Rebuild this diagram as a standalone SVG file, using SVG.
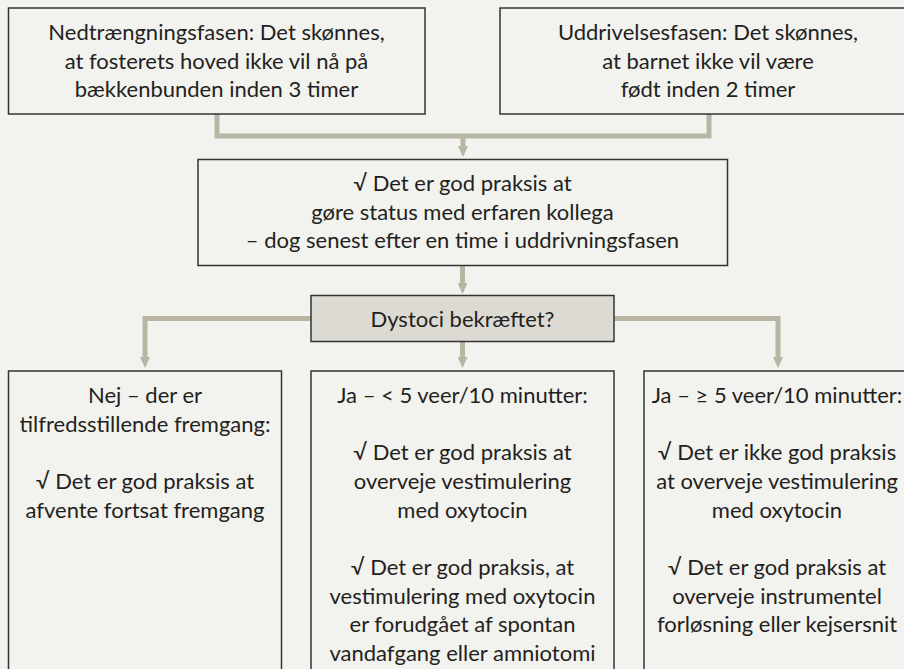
<svg xmlns="http://www.w3.org/2000/svg" width="904" height="669" viewBox="0 0 904 669">
<style>
.bg{fill:#f2f2ee}
.box{fill:#f2f2ee;stroke:#333333;stroke-width:1.5}
.q{fill:#dcdad3;stroke:#333333;stroke-width:1.5}
.t{font-family:Lato,"Open Sans","Liberation Sans",sans-serif;font-size:22px;fill:#231f20;text-anchor:middle}
.c{fill:none;stroke:#b8b5a3;stroke-width:5}
</style>
<defs>
<marker id="ah" viewBox="0 -5 11 10" refX="0" refY="0" markerWidth="11" markerHeight="10" markerUnits="userSpaceOnUse" orient="auto">
<path d="M0,-5 L11,0 L0,5 z" fill="#b8b5a3"/>
</marker>
</defs>
<rect class="bg" x="0" y="0" width="904" height="669"/>
<g id="connectors">
<path class="c" d="M217,114 V136 H709 V114"/>
<path class="c" d="M463,136 V146" marker-end="url(#ah)"/>
<path class="c" d="M462.5,265 V283" marker-end="url(#ah)"/>
<path class="c" d="M311,318.5 H145 V357" marker-end="url(#ah)"/>
<path class="c" d="M614,318.5 H778 V357" marker-end="url(#ah)"/>
<path class="c" d="M462.5,341 V357" marker-end="url(#ah)"/>
</g>
<g id="n1">
<rect class="box" x="8.5" y="8" width="416.5" height="106"/>
<text class="t" x="216.5" y="40">Nedtrængningsfasen: Det skønnes,</text>
<text class="t" x="216.5" y="69">at fosterets hoved ikke vil nå på</text>
<text class="t" x="216.5" y="97">bækkenbunden inden 3 timer</text>
</g>
<g id="n2">
<rect class="box" x="500" y="8" width="418" height="106"/>
<text class="t" x="708" y="40">Uddrivelsesfasen: Det skønnes,</text>
<text class="t" x="708" y="69">at barnet ikke vil være</text>
<text class="t" x="708" y="97">født inden 2 timer</text>
</g>
<g id="n3">
<rect class="box" x="198" y="159.5" width="529.5" height="106"/>
<text class="t" x="462.5" y="191">√ Det er god praksis at</text>
<text class="t" x="462.5" y="220">gøre status med erfaren kollega</text>
<text class="t" x="462.5" y="248">– dog senest efter en time i uddrivningsfasen</text>
</g>
<g id="n4">
<rect class="q" x="311" y="295.5" width="303" height="46"/>
<text class="t" x="462.5" y="326.5">Dystoci bekræftet?</text>
</g>
<g id="n5">
<rect class="box" x="8.5" y="371" width="273" height="320"/>
<text class="t" x="145" y="403">Nej – der er</text>
<text class="t" x="145" y="432">tilfredsstillende fremgang:</text>
<text class="t" x="145" y="489">√ Det er god praksis at</text>
<text class="t" x="145" y="518">afvente fortsat fremgang</text>
</g>
<g id="n6">
<rect class="box" x="311" y="371" width="303" height="320"/>
<text class="t" x="462.5" y="403">Ja – &lt; 5 veer/10 minutter:</text>
<text class="t" x="462.5" y="460">√ Det er god praksis at</text>
<text class="t" x="462.5" y="489">overveje vestimulering</text>
<text class="t" x="462.5" y="518">med oxytocin</text>
<text class="t" x="462.5" y="575">√ Det er god praksis, at</text>
<text class="t" x="462.5" y="604">vestimulering med oxytocin</text>
<text class="t" x="462.5" y="632">er forudgået af spontan</text>
<text class="t" x="462.5" y="661">vandafgang eller amniotomi</text>
</g>
<g id="n7">
<rect class="box" x="644" y="371" width="274" height="320"/>
<text class="t" x="777" y="403">Ja – ≥ 5 veer/10 minutter:</text>
<text class="t" x="777" y="460">√ Det er ikke god praksis</text>
<text class="t" x="777" y="489">at overveje vestimulering</text>
<text class="t" x="777" y="518">med oxytocin</text>
<text class="t" x="777" y="575">√ Det er god praksis at</text>
<text class="t" x="777" y="604">overveje instrumentel</text>
<text class="t" x="777" y="632">forløsning eller kejsersnit</text>
</g>
</svg>
